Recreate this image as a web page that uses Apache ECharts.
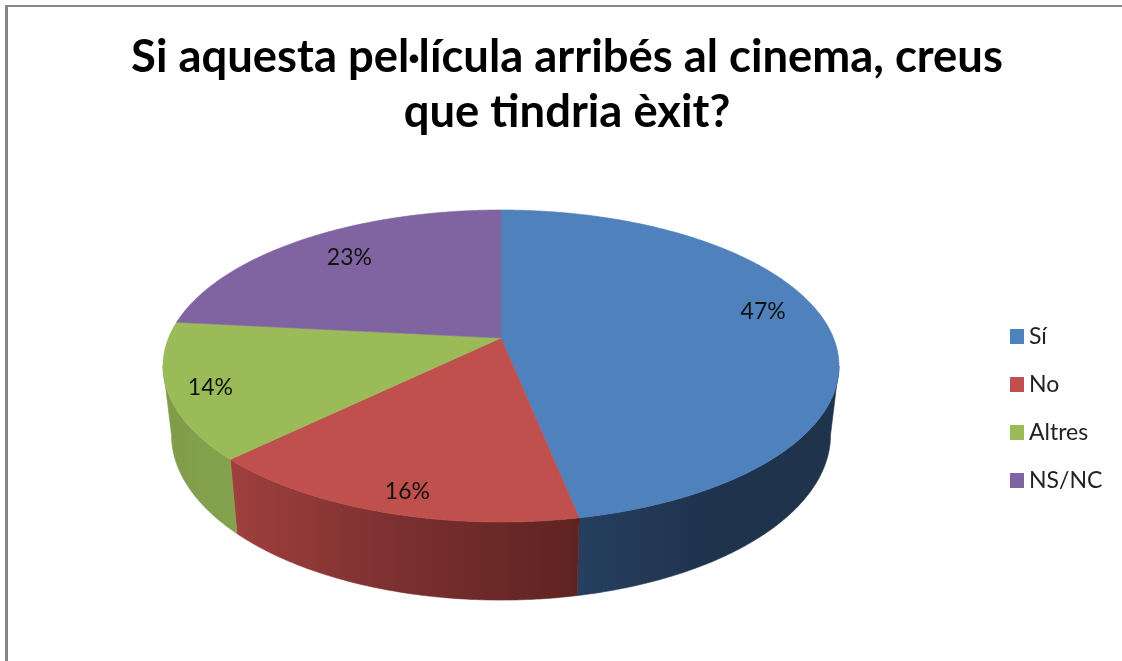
<!DOCTYPE html>
<html>
<head>
<meta charset="utf-8">
<style>html,body{margin:0;padding:0;background:#fff}#c{width:1122px;height:661px}</style>
<script src="https://cdn.jsdelivr.net/npm/echarts@6/dist/echarts.min.js"></script>
</head>
<body>
<div id="c"></div>
<script>
const titleText = 'Si aquesta pel·lícula arribés al cinema, creus\nque tindria èxit?';
const categories = ['Sí', 'No', 'Altres', 'NS/NC'];
const values = [46.9, 15.7, 14.1, 23.3];

const topColors = ['#4f81bd', '#c0504d', '#9bbb59', '#8064a2'];
const wallStops = [
  ['#263f60', '#1f334d', '#1f334d'],
  ['#9f403e', '#7a2f2f', '#5e2321'],
  ['#7f9a49', '#83a04d', '#84a14e'],
  ['#604b7a', '#604b7a', '#604b7a']
];
const labelNudge = [[1, -15], [-3, 20], [-27, 8], [9, 1]];

// Perspective disc: projection of the unit circle on to the page
const view = { cx: 501, cy: 338, a: 332.5, b: 151, k: 0.1795,
               baseScaleX: 0.975, baseScaleY: 1.06, baseCy: 405, labelR: 0.8 };
const total = values.reduce((s, v) => s + v, 0);
const project = (theta, r) => {
  const u = r * Math.sin(theta), v = r * Math.cos(theta), w = 1 + view.k * v;
  return [view.a * u / w, -view.b * v / w];
};
const topPt = (t, r = 1) => { const p = project(t, r); return [view.cx + p[0], view.cy + p[1]]; };
const basePt = t => { const p = project(t, 1); return [view.cx + p[0] * view.baseScaleX, view.baseCy + p[1] * view.baseScaleY]; };
const arc = (a, b, f) => {
  const n = Math.max(2, Math.ceil(Math.abs(b - a) * 180 / Math.PI * 2));
  const out = [];
  for (let i = 0; i <= n; i++) out.push(f(a + (b - a) * i / n));
  return out;
};
const tangent = Math.acos(-view.k);

function renderSlice(index) {
  return function (params, api) {
    const before = values.slice(0, index).reduce((s, v) => s + v, 0);
    const start = before / total * 2 * Math.PI;
    const end = start + api.value(0) / total * 2 * Math.PI;
    const children = [];
    const ws = Math.max(start, tangent), we = Math.min(end, 2 * Math.PI - tangent);
    if (we > ws) {
      const stops = wallStops[index];
      const grad = new echarts.graphic.LinearGradient(0, 0, 1, 0, [
        { offset: 0, color: stops[0] }, { offset: 0.5, color: stops[1] }, { offset: 1, color: stops[2] }
      ]);
      children.push({
        type: 'polygon',
        shape: { points: arc(ws, we, topPt).concat(arc(we, ws, basePt)) },
        style: { fill: grad, stroke: grad, lineWidth: 0.6 }
      });
    }
    children.push({
      type: 'polygon',
      shape: { points: [[view.cx, view.cy]].concat(arc(start, end, topPt)) },
      style: { fill: topColors[index], stroke: topColors[index], lineWidth: 0.6 }
    });
    const mid = (start + end) / 2, lp = topPt(mid, view.labelR), nudge = labelNudge[index];
    children.push({
      type: 'text', z2: 10,
      style: { x: lp[0] + nudge[0], y: lp[1] + nudge[1], text: Math.round(api.value(0)) + '%',
               fill: '#111', font: '23px Lato, sans-serif', align: 'center', verticalAlign: 'middle' }
    });
    return { type: 'group', children };
  };
}

const chart = echarts.init(document.getElementById('c'), null, { renderer: 'canvas' });
chart.setOption({
  animation: false,
  backgroundColor: '#ffffff',
  title: {
    text: titleText, left: 562, top: 25, textAlign: 'center',
    textStyle: { fontFamily: 'Lato, sans-serif', fontWeight: 'bold', fontSize: 45.4, lineHeight: 55, color: '#000' }
  },
  legend: {
    orient: 'vertical', left: 1005, top: 320, icon: 'rect',
    itemWidth: 14, itemHeight: 15, itemGap: 25,
    data: categories,
    textStyle: { fontFamily: 'Lato, sans-serif', fontSize: 23, color: '#222' },
    selectedMode: false
  },
  graphic: [
    { type: 'rect', shape: { x: 5, y: 5, width: 3, height: 656 }, style: { fill: '#868686' } },
    { type: 'rect', shape: { x: 5, y: 5, width: 1117, height: 2 }, style: { fill: '#868686' } }
  ],
  series: categories.map((name, i) => ({
    type: 'custom', name, coordinateSystem: 'none',
    itemStyle: { color: topColors[i] },
    renderItem: renderSlice(i),
    silent: true,
    data: [[values[i]]]
  }))
});
</script>
</body>
</html>
